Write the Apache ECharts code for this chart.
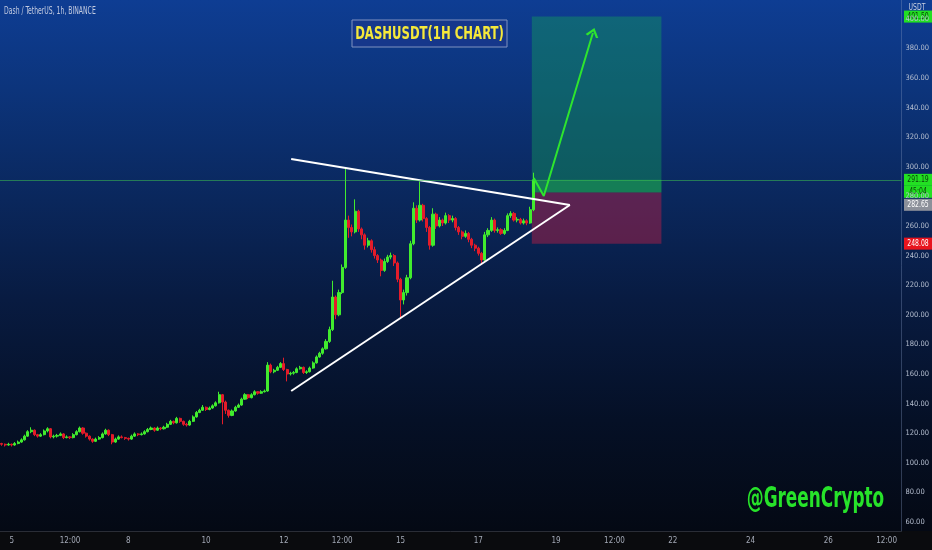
<!DOCTYPE html>
<html>
<head>
<meta charset="utf-8">
<script src="https://cdn.jsdelivr.net/npm/echarts@6/dist/echarts.min.js"></script>
<style>
html, body { margin: 0; padding: 0; background: #0a0b0e; }
#chart {
    width: 932px; height: 550px;
    background: linear-gradient(to bottom, #0e3d93 0px, #0c347b 90px, #0a275c 200px, #081b41 300px, #051026 420px, #040914 531px, #0a0b0e 531px, #0a0b0e 550px);
}
</style>
</head>
<body>
<div id="chart"></div>
<script>
// DASHUSDT 1h (drawn as 2h bars), x = hours counted from the 5th 00:00
var candleStartHour = -8;
var candleStepHours = 2;
// [open, close, low, high]
var candles = [
    [113.5, 113, 112, 114.5], [113, 112.5, 111.5, 113.5], [112.5, 112, 111, 113], [112, 112.5, 111.5, 113.5],
    [112.5, 112, 111, 113], [112, 113, 111.5, 114], [113, 114, 112.5, 115], [114, 115.5, 113.5, 116.5],
    [115.5, 118, 115, 119], [118, 121, 117.5, 122], [121, 122, 120, 124], [122, 119, 118, 122.5],
    [119, 118, 117, 119.5], [118, 119, 117.5, 120], [119, 121.5, 118.5, 122.5], [121.5, 123, 120.5, 124],
    [123, 117.5, 116.5, 123.5], [117.5, 118, 116.5, 119], [118, 118.5, 117, 119.5], [118.5, 119.5, 118, 120.5],
    [119.5, 117, 116, 120], [117, 117.5, 116.5, 118.5], [117.5, 117, 116, 118], [117, 119, 116.5, 120],
    [119, 121, 118.5, 122], [121, 123.5, 120.5, 124.5], [123.5, 120, 119, 124], [120, 118, 117, 120.5],
    [118, 116, 115, 118.5], [116, 114.5, 113.5, 116.5], [114.5, 116, 114, 117], [116, 117, 115.5, 118],
    [117, 119.5, 116.5, 120.5], [119.5, 122, 119, 123], [122, 119, 118, 122.5], [119, 114, 112.5, 119.5],
    [114, 116, 113.5, 117], [116, 117.5, 115.5, 118.5], [117.5, 117, 116.5, 118.5], [117, 116.5, 115.5, 117.5],
    [116.5, 116, 115, 117], [116, 118, 115.5, 119], [118, 119.5, 117.5, 120.5], [119.5, 119, 118, 120],
    [119, 119.5, 118.5, 120.5], [119.5, 121, 119, 122], [121, 122.5, 120.5, 123.5], [122.5, 123.5, 122, 124.5],
    [123.5, 122, 121, 124], [122, 123.5, 121.5, 124.5], [123.5, 123, 122, 124], [123, 124, 122.5, 125],
    [124, 126, 123.5, 127], [126, 128, 125.5, 129], [128, 127, 126, 128.5], [127, 130, 126.5, 131],
    [130, 128, 127, 130.5], [128, 126, 125, 128.5], [126, 125.5, 124.5, 127], [125.5, 128, 125, 129],
    [128, 131, 127.5, 132], [131, 134, 130.5, 135], [134, 135.5, 133.5, 136.5], [135.5, 137.5, 135, 139],
    [137.5, 136, 135, 138], [136, 137, 135.5, 138], [137, 138.5, 136.5, 139.5], [138.5, 140.5, 138, 141.5],
    [140.5, 146, 140, 148], [146, 141, 126, 146.5], [141, 135.5, 133, 142], [135.5, 132, 130.5, 136],
    [132, 135, 131.5, 136], [135, 137.5, 134.5, 138.5], [137.5, 139, 137, 140], [139, 143, 138.5, 144],
    [143, 146, 142.5, 147], [146, 144, 143, 146.5], [144, 146, 143.5, 147], [146, 148, 145.5, 149],
    [148, 147, 146, 148.5], [147, 148, 146.5, 149], [148, 148.5, 147.5, 149.5], [148.5, 166, 148, 168],
    [166, 161.5, 160.5, 167], [161.5, 162.5, 160.5, 163.5], [162.5, 164.5, 162, 165.5], [164.5, 167, 164, 168],
    [167, 163, 162, 171], [163, 160, 155, 163.5], [160, 160.5, 159, 161.5], [160.5, 161, 159.5, 162],
    [161, 163.5, 160.5, 164.5], [163.5, 164.5, 163, 165.5], [164.5, 161, 160, 165], [161, 161.5, 160, 162.5],
    [161.5, 164, 161, 165], [164, 167.5, 163.5, 168.5], [167.5, 171.5, 167, 172.5], [171.5, 174, 171, 175],
    [174, 177, 173, 178], [177, 182, 176.5, 183.5], [182, 190, 181, 192], [190, 212, 189, 223],
    [212, 200, 197, 213], [200, 215, 199, 217], [215, 232, 214, 234], [232, 264, 231, 299],
    [264, 259, 252, 267], [259, 256, 253, 261], [256, 270, 255, 278], [270, 258, 256, 271],
    [258, 254, 251, 259], [254, 247, 244, 255], [247, 250, 245.5, 252], [250, 244, 242, 251],
    [244, 240, 238, 246], [240, 237, 235, 241], [237, 230, 226, 238], [230, 236, 229, 238],
    [236, 239, 235, 240.5], [239, 240, 237.5, 242], [240, 235, 233, 241], [235, 224, 222, 236],
    [224, 210, 198, 225], [210, 215, 207, 217], [215, 225, 213, 227], [225, 248, 224, 250],
    [248, 272, 247, 276], [272, 264, 262, 274], [264, 274, 263, 290], [274, 265, 263, 275],
    [265, 259, 256, 266], [259, 247, 244, 260], [247, 268, 246, 272], [268, 260, 258, 269],
    [260, 264, 259, 266], [264, 262, 260, 265], [262, 267, 261, 269], [267, 264, 262, 268],
    [264, 265, 262.5, 267], [265, 259, 257, 266], [259, 256, 254, 260], [256, 253, 251, 257],
    [253, 255, 252, 257], [255, 251, 249, 256], [251, 247, 245, 252], [247, 245, 243, 248],
    [245, 241.5, 240, 246], [241.5, 237, 234, 242.5], [237, 254, 236, 256], [254, 257, 252.5, 258.5],
    [257, 264, 256, 266], [264, 257, 255.5, 265], [257, 257.5, 255.5, 259], [257.5, 255, 254, 258.5],
    [255, 257, 254, 258.5], [257, 267, 256.5, 268.5], [267, 268.5, 265.5, 270], [268.5, 264, 263, 269.5],
    [264, 264.5, 262.5, 266], [264.5, 262, 261, 265.5], [262, 263.5, 261, 265], [263.5, 262, 260.5, 264.5],
    [262, 271, 261.5, 273], [271, 291.19, 270, 296]
];

var tickHours = [0, 36, 72, 120, 168, 204, 240, 288, 336, 372, 408, 456, 504, 540];
var tickLabels = ['5', '12:00', '8', '10', '12', '12:00', '15', '17', '19', '12:00', '22', '24', '26', '12:00'];

var lastPrice = 291.19;
var countdown = '45:04';
var entryPrice = 282.65;
var stopPrice = 248.08;
var targetPrice = 401.5;
var positionHours = [321, 401];

// drawings
var upperTrend = [[172.5, 305.3], [344.5, 274.2]];
var lowerTrend = [[172.5, 148.5], [344.5, 274.2]];
var arrowPath = [[322.2, 292.4], [328.4, 280.3], [358.7, 390.4]];

var narrow = "'Liberation Sans Narrow', 'DejaVu Sans Condensed', sans-serif";
var green = '#41ec2e';
var red = '#e41c2a';

var chart = echarts.init(document.getElementById('chart'));

var candleData = candles.map(function (c, i) {
    return [candleStartHour + i * candleStepHours].concat(c);
});

var arrowData = arrowPath.map(function (p, i) {
    if (i < arrowPath.length - 1) return { value: p };
    return {
        value: p,
        symbol: 'path://M0 10 L5 0 L10 10',
        symbolSize: [11, 7],
        symbolRotate: -17,
        itemStyle: { color: 'rgba(0,0,0,0)', borderColor: '#2ee52e', borderWidth: 2 }
    };
});

chart.setOption({
    animation: false,
    backgroundColor: 'transparent',
    grid: { left: 0, right: 27, top: 0, bottom: 19 },
    xAxis: {
        type: 'value',
        min: -7.2,
        max: 549.1,
        splitLine: { show: false },
        axisTick: { show: false },
        axisLine: { show: true, onZero: false, lineStyle: { color: '#2a2d36' } },
        axisLabel: {
            customValues: tickHours,
            formatter: function (v) {
                var k = tickHours.indexOf(v);
                return k >= 0 ? tickLabels[k] : '';
            },
            color: '#a3a9b6',
            fontSize: 8,
            fontFamily: narrow,
            margin: 6
        }
    },
    yAxis: {
        type: 'value',
        position: 'right',
        min: 53.9,
        max: 412.7,
        minInterval: 20,
        maxInterval: 20,
        splitLine: { show: false },
        axisTick: { show: false },
        axisLine: { show: true, onZero: false, lineStyle: { color: 'rgba(130,150,190,0.35)' } },
        axisLabel: {
            formatter: function (v) {
                return Math.abs(v % 20) < 1e-6 ? v.toFixed(2) : '';
            },
            color: '#b6bfd0',
            fontSize: 7.5,
            fontFamily: narrow,
            margin: 4,
            align: 'left'
        }
    },
    series: [
        {
            type: 'candlestick',
            data: candleData,
            barWidth: 2.6,
            z: 2,
            itemStyle: {
                color: green, color0: red,
                borderColor: green, borderColor0: red,
                borderWidth: 1
            },
            markLine: {
                silent: true,
                symbol: ['none', 'none'],
                label: { show: false },
                lineStyle: { color: 'rgba(60,190,80,0.55)', width: 1, type: 'solid' },
                data: [{ yAxis: lastPrice }]
            }
        },
        {
            type: 'line',
            data: upperTrend,
            symbol: 'none',
            z: 3,
            lineStyle: { color: '#ffffff', width: 2 }
        },
        {
            type: 'line',
            data: lowerTrend,
            symbol: 'none',
            z: 3,
            lineStyle: { color: '#ffffff', width: 2 }
        },
        {
            // long position tool
            type: 'line',
            data: [[positionHours[0], entryPrice]],
            symbol: 'none',
            z: 4,
            lineStyle: { opacity: 0 },
            markArea: {
                silent: true,
                data: [
                    [{ coord: [positionHours[0], entryPrice], itemStyle: { color: 'rgba(20,160,90,0.42)' } },
                     { coord: [positionHours[1], targetPrice] }],
                    [{ coord: [positionHours[0], entryPrice], itemStyle: { color: 'rgba(40,210,70,0.30)' } },
                     { coord: [positionHours[1], lastPrice] }],
                    [{ coord: [positionHours[0], stopPrice], itemStyle: { color: 'rgba(205,30,70,0.42)' } },
                     { coord: [positionHours[1], entryPrice] }]
                ]
            }
        },
        {
            type: 'line',
            data: arrowData,
            symbol: 'none',
            z: 6,
            lineStyle: { color: '#2ee52e', width: 2 }
        }
    ]
});

// price tags on the right scale
function yPix(v) {
    return chart.convertToPixel({ yAxisIndex: 0 }, v);
}

function priceTag(text, y, bg, fg) {
    return {
        type: 'group',
        children: [
            { type: 'rect', shape: { x: 904, y: y - 6, width: 28, height: 12 }, style: { fill: bg } },
            {
                type: 'text', x: 918, y: y, scaleX: 0.8,
                style: { text: text, fill: fg, fontSize: 8.5, fontFamily: narrow, align: 'center', verticalAlign: 'middle' }
            }
        ]
    };
}

var lastY = yPix(lastPrice);
var entryY = Math.max(yPix(entryPrice), lastY + 25);

chart.setOption({
    graphic: [
        {
            type: 'text', x: 4, y: 11, scaleX: 0.68,
            style: { text: 'Dash / TetherUS, 1h, BINANCE', fill: '#c3cbe0', fontSize: 10, fontFamily: narrow, align: 'left', verticalAlign: 'middle' }
        },
        {
            type: 'rect', shape: { x: 352, y: 20, width: 155, height: 27 },
            style: { fill: 'rgba(25,55,140,0.75)', stroke: '#8092c0', lineWidth: 1 }
        },
        {
            type: 'text', x: 429.5, y: 34, scaleX: 0.72,
            style: { text: 'DASHUSDT(1H CHART)', fill: '#f5e83a', fontSize: 18, fontWeight: 'bold', fontFamily: narrow, align: 'center', verticalAlign: 'middle' }
        },
        {
            type: 'text', x: 815.5, y: 500, scaleX: 0.67,
            style: { text: '@GreenCrypto', fill: '#27e32a', fontSize: 28, fontWeight: 'bold', fontFamily: narrow, align: 'center', verticalAlign: 'middle' }
        },
        priceTag(targetPrice.toFixed(2), yPix(targetPrice), '#22e022', '#0b3a0b'),
        {
            type: 'text', x: 917, y: 8, scaleX: 0.85,
            style: { text: 'USDT', fill: '#c8d0e0', fontSize: 8, fontFamily: narrow, align: 'center', verticalAlign: 'middle' }
        },
        priceTag(lastPrice.toFixed(2), lastY, '#22e022', '#0b3a0b'),
        priceTag(countdown, lastY + 12, '#22e022', '#0b3a0b'),
        priceTag(entryPrice.toFixed(2), entryY, '#8c909a', '#ffffff'),
        priceTag(stopPrice.toFixed(2), yPix(stopPrice), '#e8141e', '#ffffff')
    ]
});
</script>
</body>
</html>
